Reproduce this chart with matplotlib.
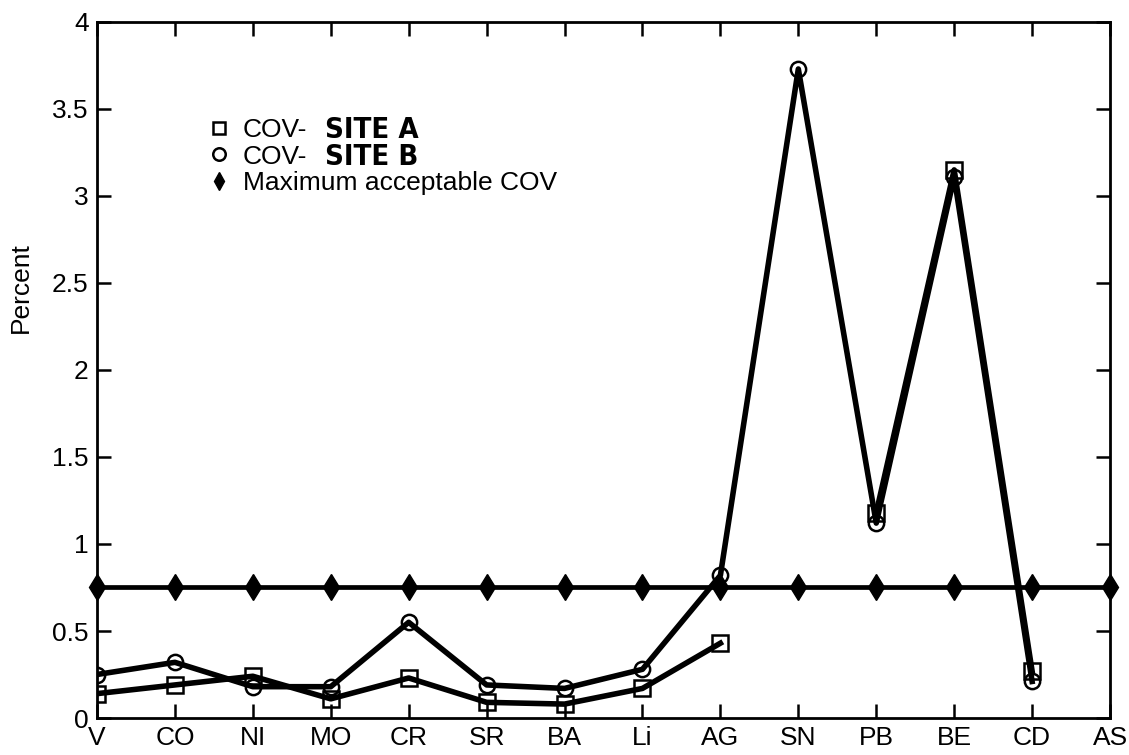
import matplotlib
matplotlib.use("Agg")
import matplotlib.pyplot as plt
import numpy as np

# coefficient of variation per element, two sites plus the acceptance limit
elements = ["V", "CO", "NI", "MO", "CR", "SR", "BA", "Li", "AG", "SN", "PB", "BE", "CD", "AS"]
site_a = [0.14, 0.19, 0.24, 0.11, 0.23, 0.09, 0.08, 0.17, 0.43, np.nan, 1.18, 3.15, 0.27, np.nan]
site_b = [0.25, 0.32, 0.18, 0.18, 0.55, 0.19, 0.17, 0.28, 0.82, 3.73, 1.12, 3.11, 0.21, np.nan]
max_cov = [0.75] * len(elements)

plt.rcParams["font.family"] = ["Liberation Sans", "DejaVu Sans"]
FS = 19

fig = plt.figure(figsize=(11.29, 7.55), dpi=100)
ax = fig.add_axes([0.0859, 0.049, 0.8973, 0.9219])

x = np.arange(len(elements))
ax.plot(x, max_cov, color="black", lw=3.4, marker="d", markersize=13,
        markerfacecolor="black", markeredgecolor="black", clip_on=False, zorder=2,
        label="Maximum acceptable COV")
ax.plot(x, site_a, color="black", lw=4.0, marker="s", markersize=11, fillstyle="none",
        markeredgewidth=1.8, zorder=3, label="COV- SITE A")
ax.plot(x, site_b, color="black", lw=4.0, marker="o", markersize=11, fillstyle="none",
        markeredgewidth=1.8, zorder=3, label="COV- SITE B")

ax.set_xlim(0, len(elements) - 1)
ax.set_ylim(0, 4)
ax.set_xticks(x)
ax.set_xticklabels(elements)
ax.set_yticks(np.arange(0, 4.01, 0.5))
ax.set_yticklabels([f"{v:g}" for v in np.arange(0, 4.01, 0.5)])
ax.tick_params(direction="in", length=10, width=1.8, labelsize=FS,
               top=True, right=True)
ax.tick_params(axis="x", pad=6)
ax.tick_params(axis="y", pad=6)
for s in ax.spines.values():
    s.set_linewidth(2.0)
ax.set_ylabel("Percent", fontsize=FS)
ax.yaxis.set_label_coords(-0.063, 0.618)

# legend order: site A, site B, limit
h, l = ax.get_legend_handles_labels()
leg = ax.legend([h[1], h[2], h[0]], ["COV-", "COV-", "Maximum acceptable COV"],
                loc="upper left", bbox_to_anchor=(0.1125, 0.862), frameon=False,
                fontsize=FS, handlelength=0.6, handletextpad=0.6,
                labelspacing=0.1, borderpad=0, borderaxespad=0)
for lh in leg.legend_handles:
    lh.set_linestyle("none")
    lh.set_markersize(9)

# the site names are set in a bold narrow face after "COV-"
fig.canvas.draw()
renderer = fig.canvas.get_renderer()
inv = fig.transFigure.inverted()
for txt, name in zip(leg.get_texts()[:2], ["SITE A", "SITE B"]):
    bb = txt.get_window_extent(renderer)
    x0, y0 = inv.transform((bb.x1 + 18, (bb.y0 + bb.y1) / 2))
    fig.text(x0, y0, name, fontsize=FS + 2, fontweight="bold", va="center", ha="left",
             family="DejaVu Sans", fontstretch="condensed")

fig.savefig("out.png", dpi=100)
